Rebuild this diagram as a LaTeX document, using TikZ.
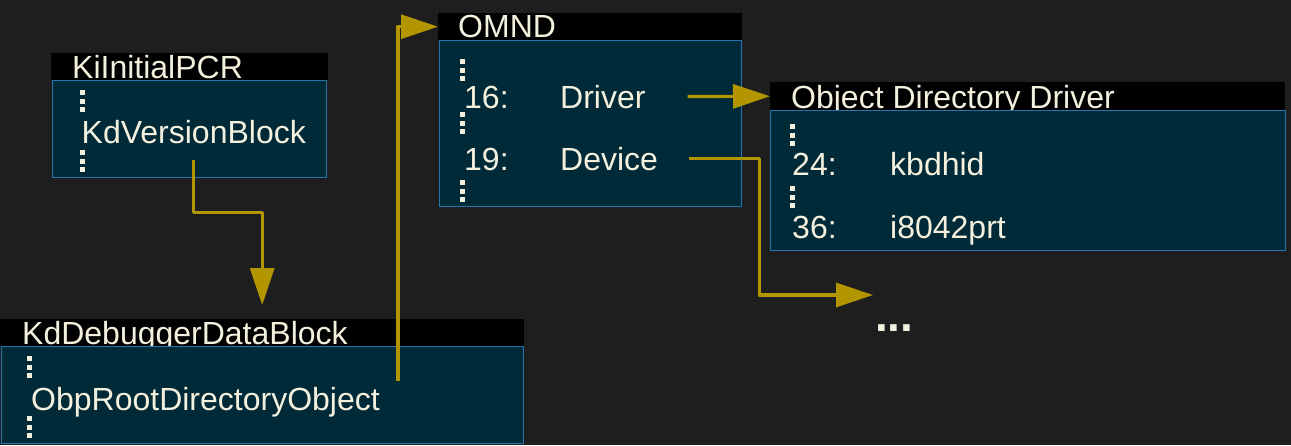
\documentclass[tikz,border=0pt]{standalone}
\usepackage{fontspec}
\setmainfont{Liberation Sans}
\usetikzlibrary{arrows.meta,positioning,calc}
\definecolor{canvas}{HTML}{1E1E1E}
\definecolor{boxfill}{HTML}{012A38}
\definecolor{boxline}{HTML}{2474B0}
\definecolor{ink}{HTML}{F4F0DE}
\definecolor{linkgold}{HTML}{B39500}
\newcommand{\vdotsat}[2]{\foreach \k in {0,1,2} \fill[ink] (#1,#2+\k*8.6) rectangle ++(5,5);}

\begin{document}
\begin{tikzpicture}[x=1pt,y=-1pt,
  head/.style={fill=black,inner sep=0,anchor=north west},
  body/.style={fill=boxfill,draw=boxline,line width=1.3pt,inner sep=0,anchor=north west},
  txt/.style={text=ink,inner sep=0,anchor=base west,font=\fontsize{32}{38}\selectfont},
  link/.style={color=linkgold,line width=3.2pt,line join=round,-{Triangle[length=37pt,width=24pt]}}]
\fill[canvas] (0,0) rectangle (1291,445);
\useasboundingbox (0,0) rectangle (1291,445);

\node[head,minimum width=277pt,minimum height=27pt] (pcrhead) at (51,53) {};
\node[txt] (pcrtitle) at (72,78) {KiInitialPCR};
\node[body,minimum width=274pt,minimum height=97pt] (pcr) at (52,80) {};
\vdotsat{80}{90}
\node[txt] (kdver) at (81.5,143) {KdVersionBlock};
\vdotsat{80}{150}

\node[head,minimum width=524pt,minimum height=27pt] (dbghead) at (0,319) {};
\node[txt] (dbgtitle) at (22,344) {KdDebuggerDataBlock};
\node[body,minimum width=522pt,minimum height=97pt] (dbg) at (1,346) {};
\vdotsat{27}{356}
\node[txt] (obproot) at (31,410) {ObpRootDirectoryObject};
\vdotsat{27}{416}

\node[head,minimum width=304pt,minimum height=27pt] (omndhead) at (438,13) {};
\node[txt] (omndtitle) at (458,37) {OMND};
\node[body,minimum width=302pt,minimum height=166pt] (omnd) at (439,40) {};
\vdotsat{460}{59}
\node[txt] (n16) at (464,108) {16:};
\node[txt] (driver) at (560,108) {Driver};
\vdotsat{460}{112}
\node[txt] (n19) at (464,170) {19:};
\node[txt] (device) at (560,170) {Device};
\vdotsat{460}{180}

\node[head,minimum width=515pt,minimum height=28pt] (odhead) at (770,82) {};
\node[txt] (odtitle) at (791,108) {Object Directory Driver};
\node[body,minimum width=515pt,minimum height=140pt] (od) at (770,110) {};
\vdotsat{790}{124}
\node[txt] (n24) at (792,175) {24:};
\node[txt] (kbdhid) at (890,175) {kbdhid};
\vdotsat{790}{186}
\node[txt] (n36) at (792,238) {36:};
\node[txt] (i8042) at (890,238) {i8042prt};

\coordinate (devend) at (873,295);
\node[txt,font=\fontsize{46}{50}\selectfont\bfseries] (more) at (875,331) {...};

\draw[link] ([yshift=-16pt]kdver.south) -- ++(0,53) -| ([yshift=14pt]dbghead.north);
\draw[link] ([xshift=18pt,yshift=6pt]obproot.north east) |- (omndhead.west);
\draw[link] ([xshift=42pt]driver.east) -- (odhead.west);
\draw[link] ([xshift=31pt]device.east) -- ++(70,0) |- (devend);
\end{tikzpicture}
\end{document}
